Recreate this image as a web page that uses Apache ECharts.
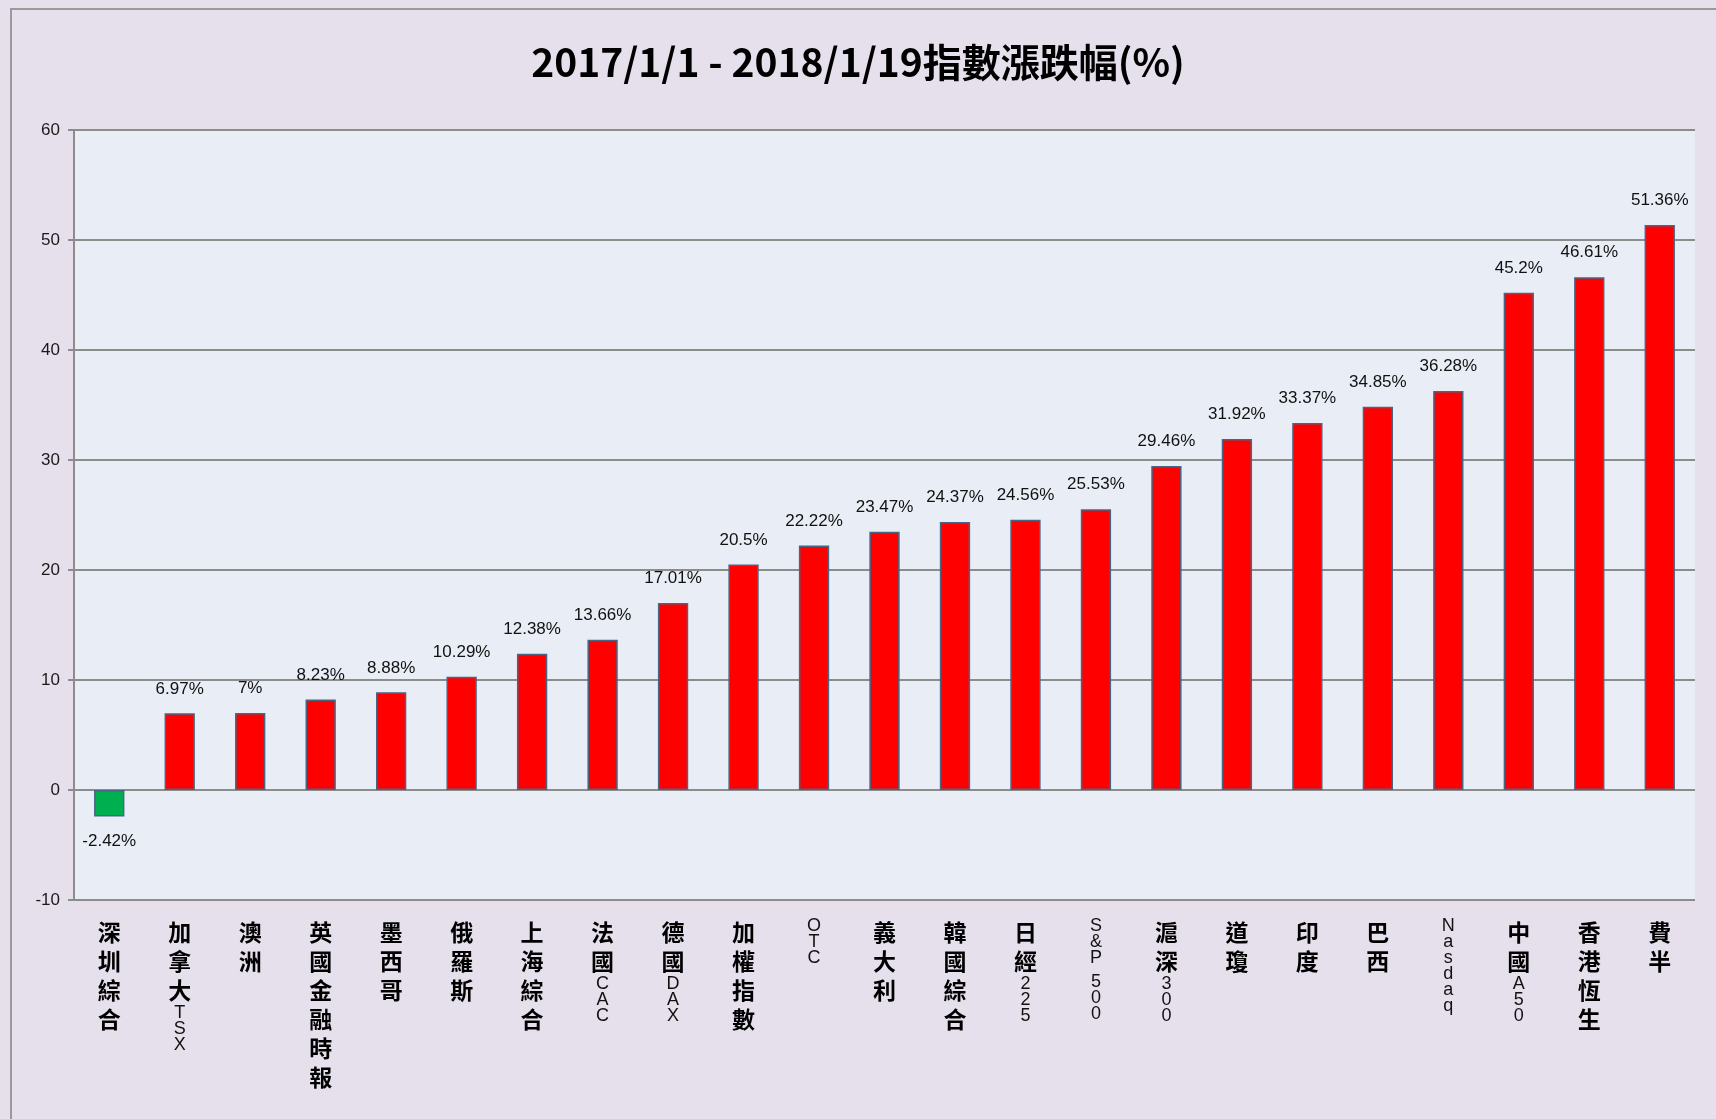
<!DOCTYPE html>
<html lang="zh-Hant">
<head>
<meta charset="UTF-8">
<title>指數漲跌幅</title>
<script src="https://cdn.jsdelivr.net/npm/echarts@6/dist/echarts.min.js"></script>
<style>
  html, body { margin: 0; padding: 0; background: #fff; }
  #main { width: 1716px; height: 1119px; }
</style>
</head>
<body>
<div id="main"></div>
<script>
// 指數名稱
var categories = ['深圳綜合', '加拿大TSX', '澳洲', '英國金融時報', '墨西哥', '俄羅斯', '上海綜合', '法國CAC',
    '德國DAX', '加權指數', 'OTC', '義大利', '韓國綜合', '日經225', 'S&P 500', '滬深300', '道瓊', '印度',
    '巴西', 'Nasdaq', '中國A50', '香港恆生', '費半'];
// 漲跌幅 (%)
var changes = [-2.42, 6.97, 7, 8.23, 8.88, 10.29, 12.38, 13.66, 17.01, 20.5, 22.22, 23.47, 24.37, 24.56,
    25.53, 29.46, 31.92, 33.37, 34.85, 36.28, 45.2, 46.61, 51.36];
var yTicks = [-10, 0, 10, 20, 30, 40, 50, 60];

var titleText = '2017/1/1 - 2018/1/19指數漲跌幅(%)';

// 直排文字: 每個字一行
function verticalLabel(s) {
    var out = [];
    for (var i = 0; i < s.length; i++) {
        var ch = s[i];
        if (/[\u3000-\u9fff]/.test(ch)) out.push('{c|' + ch + '}');
        else if (ch === ' ') out.push('{s| }');
        else out.push('{l|' + ch + '}');
    }
    return out.join('\n');
}

var myChart = echarts.init(document.getElementById('main'));
var option = {
    backgroundColor: '#E6E0EC',
    animation: false,
    title: {
        text: titleText,
        left: 'center',
        top: 38,
        textStyle: {
            fontFamily: '"Liberation Sans Narrow", "Noto Sans CJK TC", sans-serif',
            fontSize: 39,
            fontWeight: 'bold',
            color: '#000'
        }
    },
    graphic: [{
        type: 'rect',
        shape: { x: 11, y: 9, width: 1720, height: 1120 },
        style: { fill: 'none', stroke: '#9a9a9a', lineWidth: 2 },
        silent: true
    }],
    grid: {
        left: 74,
        right: 21,
        top: 130,
        bottom: 219,
        show: true,
        backgroundColor: '#E9EDF5',
        borderWidth: 0
    },
    xAxis: {
        type: 'category',
        data: categories,
        axisLine: { show: false, onZero: false },
        axisTick: { show: false },
        axisLabel: {
            interval: 0,
            margin: 18,
            formatter: function (v) { return verticalLabel(v); },
            rich: {
                c: { fontFamily: '"Noto Sans CJK TC", sans-serif', fontSize: 23, fontWeight: 'bold', lineHeight: 29, color: '#000' },
                l: { fontFamily: '"Liberation Sans", sans-serif', fontSize: 18, lineHeight: 16, color: '#111' },
                s: { fontSize: 8, lineHeight: 8 }
            }
        }
    },
    yAxis: {
        type: 'value',
        min: yTicks[0],
        max: yTicks[yTicks.length - 1],
        interval: 10,
        axisLine: { show: true, lineStyle: { color: '#8c8c8c', width: 2 } },
        axisTick: { show: true, length: 6, lineStyle: { color: '#8c8c8c', width: 2 } },
        axisLabel: {
            margin: 14,
            fontFamily: '"Liberation Sans", sans-serif',
            fontSize: 17,
            color: '#1a1a1a'
        },
        splitLine: { show: true, lineStyle: { color: '#8c8c8c', width: 2 } }
    },
    series: [{
        type: 'bar',
        barWidth: '43%',
        data: changes.map(function (v) {
            return {
                value: v,
                itemStyle: { color: v < 0 ? '#00B050' : '#FF0000' },
                label: { position: v < 0 ? 'bottom' : 'top' }
            };
        }),
        itemStyle: { borderColor: '#4A6484', borderWidth: 1.5 },
        label: {
            show: true,
            distance: 16,
            formatter: function (p) { return p.value + '%'; },
            fontFamily: '"Liberation Sans", sans-serif',
            fontSize: 17,
            color: '#111'
        }
    }]
};
myChart.setOption(option);
</script>
</body>
</html>
